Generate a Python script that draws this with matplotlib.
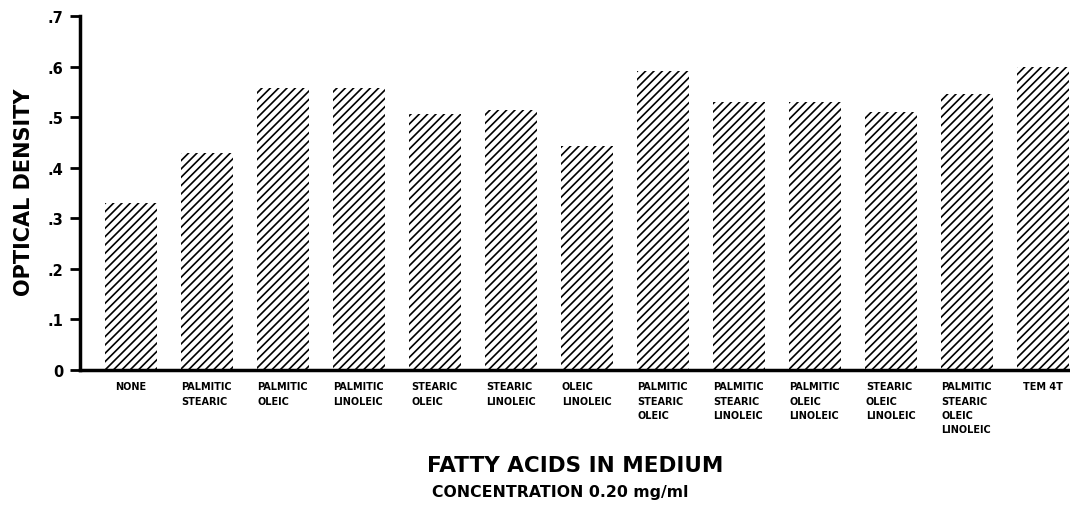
import matplotlib
matplotlib.use("Agg")
import matplotlib.pyplot as plt

categories = ["NONE", "PALMITIC\nSTEARIC", "PALMITIC\nOLEIC", "PALMITIC\nLINOLEIC",
              "STEARIC\nOLEIC", "STEARIC\nLINOLEIC", "OLEIC\nLINOLEIC",
              "PALMITIC\nSTEARIC\nOLEIC", "PALMITIC\nSTEARIC\nLINOLEIC",
              "PALMITIC\nOLEIC\nLINOLEIC", "STEARIC\nOLEIC\nLINOLEIC",
              "PALMITIC\nSTEARIC\nOLEIC\nLINOLEIC", "TEM 4T"]
optical_density = [0.33, 0.43, 0.557, 0.557, 0.506, 0.514, 0.443,
                   0.591, 0.53, 0.53, 0.51, 0.546, 0.599]
yticks = [0, 0.1, 0.2, 0.3, 0.4, 0.5, 0.6, 0.7]
ytick_labels = ["0", ".1", ".2", ".3", ".4", ".5", ".6", ".7"]

plt.rcParams['hatch.linewidth'] = 1.2
plt.rcParams['font.family'] = ['DejaVu Sans']

W, H = 1070, 506
fig = plt.figure(figsize=(W/100, H/100), dpi=100)
ax = fig.add_axes([80/W, 1 - 371/H, (1070-80)/W, (371-17)/H])

x = list(range(len(categories)))
ax.bar(x, optical_density, width=0.684, color="white", edgecolor="black",
       linewidth=0, hatch="////")

ax.set_xlim(-0.67, 12.36)
ax.set_ylim(0, 0.7)
ax.set_yticks(yticks)
ax.set_yticklabels(ytick_labels, fontsize=10.5, fontweight="bold")
ax.set_xticks(x)
ax.set_xticklabels(categories, fontsize=7, fontweight="bold", va="top",
                   multialignment="left", linespacing=1.55)
ax.tick_params(axis="x", length=0, pad=8)
ax.tick_params(axis="y", length=7, width=2, pad=5, direction="out")
for s in ["top", "right"]:
    ax.spines[s].set_visible(False)
for s in ["left", "bottom"]:
    ax.spines[s].set_linewidth(2.5)

fig.text(24/W, 1 - 192/H, "OPTICAL DENSITY", rotation=90, ha="center", va="center",
         fontsize=15, fontweight="bold")
fig.text(575/W, 1 - 466/H, "FATTY ACIDS IN MEDIUM", ha="center", va="center",
         fontsize=15.5, fontweight="bold")
fig.text(560/W, 1 - 493/H, "CONCENTRATION 0.20 mg/ml", ha="center", va="center",
         fontsize=11.3, fontweight="bold")

fig.savefig("out.png", dpi=100)
